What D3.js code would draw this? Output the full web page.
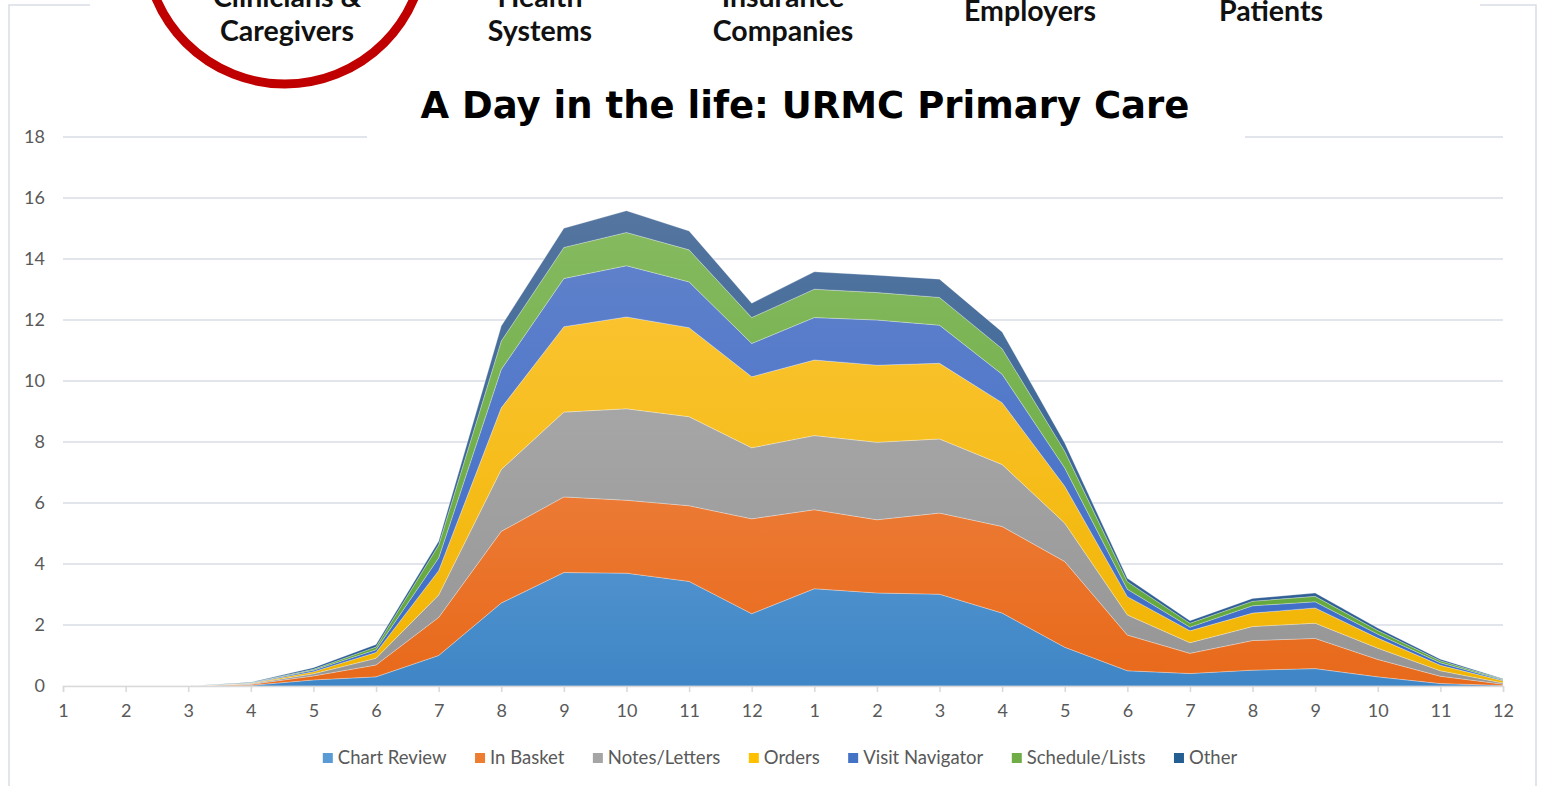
<!DOCTYPE html>
<html>
<head>
<meta charset="utf-8">
<script src="https://cdn.jsdelivr.net/npm/d3@7"></script>
<style>
  body { margin: 0; background: #fff; }
  svg { display: block; }
</style>
</head>
<body>
<svg id="chart" width="1541" height="786"></svg>
<script>
// hour labels along the x axis (two 12h cycles)
const hours = ['1','2','3','4','5','6','7','8','9','10','11','12',
               '1','2','3','4','5','6','7','8','9','10','11','12'];

const seriesNames = ['Chart Review', 'In Basket', 'Notes/Letters', 'Orders', 'Visit Navigator', 'Schedule/Lists', 'Other'];

const chartReview  = [0,0,0,0.02,0.20,0.30,1.00,2.72,3.72,3.70,3.43,2.37,3.19,3.05,3.01,2.39,1.27,0.50,0.41,0.52,0.57,0.30,0.08,0.02];
const inBasket     = [0,0,0,0.03,0.13,0.39,1.25,2.35,2.48,2.39,2.48,3.11,2.59,2.40,2.66,2.84,2.81,1.17,0.66,0.97,0.99,0.57,0.24,0.04];
const notesLetters = [0,0,0,0.02,0.07,0.22,0.73,2.03,2.78,3.00,2.92,2.33,2.43,2.54,2.43,2.03,1.26,0.66,0.35,0.46,0.50,0.37,0.18,0.04];
const orders       = [0,0,0,0.02,0.07,0.19,0.80,2.02,2.80,3.01,2.92,2.33,2.48,2.53,2.48,2.03,1.21,0.60,0.39,0.44,0.50,0.33,0.18,0.07];
const visitNav     = [0,0,0,0.01,0.05,0.09,0.42,1.26,1.58,1.68,1.50,1.09,1.39,1.48,1.25,0.93,0.60,0.24,0.12,0.24,0.20,0.13,0.08,0.03];
const scheduleList = [0,0,0,0.01,0.03,0.09,0.42,0.93,1.02,1.09,1.05,0.85,0.93,0.90,0.91,0.84,0.55,0.25,0.13,0.15,0.18,0.12,0.07,0.02];
const other        = [0,0,0,0.01,0.05,0.08,0.13,0.49,0.63,0.71,0.62,0.47,0.57,0.57,0.60,0.55,0.27,0.11,0.08,0.09,0.11,0.08,0.05,0.02];

const yTicks = [0,2,4,6,8,10,12,14,16,18];

const headerItems = [
  {lines: ['Clinicians &', 'Caregivers'], x: 287},
  {lines: ['Health', 'Systems'], x: 540},
  {lines: ['Insurance', 'Companies'], x: 783},
  {lines: ['Employers'], x: 1030},
  {lines: ['Patients'], x: 1271}
];

// gradient stops per series (top, bottom)
const colors = [
  ['#80b4e4', '#3f86c6'],
  ['#f2955e', '#e8691a'],
  ['#b3b3b3', '#959595'],
  ['#fdc83e', '#f0b400'],
  ['#6584cb', '#3a6bc8'],
  ['#88bb62', '#5fa637'],
  ['#55769f', '#285b93']
];
const legendColors = ['#5b9bd5', '#ed7d31', '#a5a5a5', '#ffc000', '#4472c4', '#70ad47', '#255e91'];

const svg = d3.select('#chart');

const rows = hours.map((h, i) => ({
  i: i,
  'Chart Review': chartReview[i],
  'In Basket': inBasket[i],
  'Notes/Letters': notesLetters[i],
  'Orders': orders[i],
  'Visit Navigator': visitNav[i],
  'Schedule/Lists': scheduleList[i],
  'Other': other[i]
}));

const x = d3.scalePoint()
  .domain(d3.range(hours.length))
  .range([63, 1503]);

const y = d3.scaleLinear()
  .domain([0, 18])
  .range([686, 137]);

// panel frame
svg.append('rect')
  .attr('x', 9).attr('y', 5)
  .attr('width', 1527).attr('height', 800)
  .style('fill', '#fff')
  .style('stroke', '#d9dde6')
  .style('stroke-width', 1.5);

const defs = svg.append('defs');
colors.forEach((c, k) => {
  const g = defs.append('linearGradient')
    .attr('id', 'grad' + k)
    .attr('gradientUnits', 'userSpaceOnUse')
    .attr('x1', 0).attr('x2', 0)
    .attr('y1', y(16)).attr('y2', y(0));
  g.append('stop').attr('offset', '0%').attr('stop-color', c[0]);
  g.append('stop').attr('offset', '100%').attr('stop-color', c[1]);
});

// gridlines
svg.append('g')
  .attr('class', 'grid')
  .selectAll('line')
  .data(yTicks)
  .enter()
  .append('line')
  .attr('x1', 63).attr('x2', 1503)
  .attr('y1', d => y(d)).attr('y2', d => y(d))
  .style('stroke', '#d9dde6')
  .style('stroke-width', 1.5);

// y labels
svg.append('g')
  .selectAll('text')
  .data(yTicks)
  .enter()
  .append('text')
  .attr('x', 45)
  .attr('y', d => y(d))
  .attr('dy', '0.35em')
  .text(d => d)
  .style('text-anchor', 'end')
  .style('font-family', 'Lato, sans-serif')
  .style('font-size', '18px')
  .style('fill', '#595959');

// stacked areas
const stack = d3.stack().keys(seriesNames);
const layers = stack(rows);

const area = d3.area()
  .x(d => x(d.data.i))
  .y0(d => y(d[0]))
  .y1(d => y(d[1]));

svg.append('g')
  .attr('class', 'areas')
  .selectAll('path')
  .data(layers)
  .enter()
  .append('path')
  .attr('d', area)
  .style('fill', (d, k) => `url(#grad${k})`)
  .style('stroke', 'rgba(255,255,255,0.35)')
  .style('stroke-width', 0.8);

// x axis
const xAxis = svg.append('g')
  .attr('transform', `translate(0, ${y(0)})`)
  .call(d3.axisBottom(x).tickFormat(i => hours[i]).tickSize(6).tickPadding(12));

xAxis.select('.domain').style('stroke', '#d9d9d9').style('stroke-width', 1.5);
xAxis.selectAll('.tick line').style('stroke', '#d9d9d9').style('stroke-width', 1.5);
xAxis.selectAll('.tick text')
  .style('font-family', 'Lato, sans-serif')
  .style('font-size', '18px')
  .style('fill', '#595959');

// legend
const legend = svg.append('g').attr('class', 'legend');
const legendItems = legend.selectAll('g')
  .data(seriesNames)
  .enter()
  .append('g');

legendItems.append('rect')
  .attr('width', 10).attr('height', 10)
  .attr('y', -5)
  .style('fill', (d, k) => legendColors[k]);

legendItems.append('text')
  .attr('x', 15)
  .attr('dy', '0.35em')
  .text(d => d)
  .style('font-family', 'Lato, sans-serif')
  .style('font-size', '18.5px')
  .style('fill', '#595959');

let lx = 0;
const offsets = [];
const gap = 28.5;
legendItems.each(function(d, k) {
  offsets.push(lx);
  const w = d3.select(this).select('text').node().getComputedTextLength();
  lx += 15 + w + gap;
});
const totalW = lx - gap;
const startX = 780 - totalW / 2;
legendItems.attr('transform', (d, k) => `translate(${startX + offsets[k]}, 758)`);

// header band overlay
svg.append('rect')
  .attr('x', 90).attr('y', 0)
  .attr('width', 1390).attr('height', 62)
  .style('fill', '#fff');

// title background (covers the top gridline)
svg.append('rect')
  .attr('x', 367).attr('y', 62)
  .attr('width', 878).attr('height', 80)
  .style('fill', '#fff');

svg.append('circle')
  .attr('cx', 285).attr('cy', -56)
  .attr('r', 140)
  .style('fill', 'none')
  .style('stroke', '#c00000')
  .style('stroke-width', 9);

const header = svg.append('g').attr('class', 'header');
headerItems.forEach(h => {
  const t = header.append('text')
    .attr('x', h.x)
    .style('text-anchor', 'middle')
    .style('font-family', 'Lato, sans-serif')
    .style('font-weight', 700)
    .style('font-size', '28.5px')
    .style('fill', '#111');
  if (h.lines.length === 2) {
    t.append('tspan').attr('x', h.x).attr('y', 7).text(h.lines[0]);
    t.append('tspan').attr('x', h.x).attr('y', 41).text(h.lines[1]);
  } else {
    t.attr('y', 21).text(h.lines[0]);
  }
});

svg.append('text')
  .attr('x', 805)
  .attr('y', 118)
  .text('A Day in the life: URMC Primary Care')
  .style('text-anchor', 'middle')
  .style('font-family', "'DejaVu Sans', Verdana, sans-serif")
  .style('font-weight', 700)
  .style('font-size', '37px')
  .style('fill', '#000');
</script>
</body>
</html>
